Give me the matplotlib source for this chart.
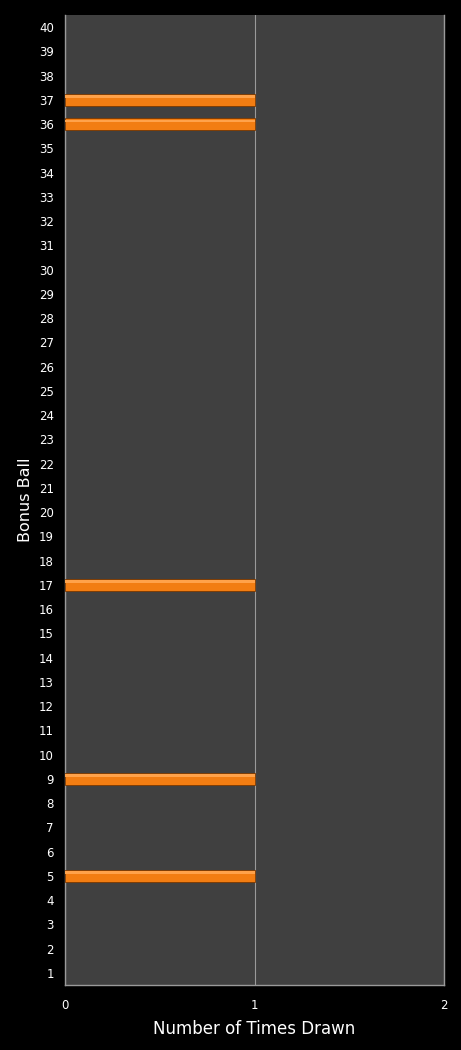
import matplotlib
matplotlib.use('Agg')
from matplotlib import pyplot as plt
import numpy as np

# Bonus ball numbers and how often each was drawn
balls = list(range(1, 41))
drawn = [0] * 40
for b in [5, 9, 17, 36, 37]:
    drawn[b - 1] = 1
x_ticks = [0, 1, 2]

fig = plt.figure(figsize=(4.61, 10.5), dpi=100, facecolor='black')
ax = fig.add_axes([65 / 461, 65 / 1050, 379 / 461, 970 / 1050])
ax.set_facecolor('#404040')

# only the balls that were actually drawn get a bar (zero bars would leave edge marks)
y = np.array(balls)
v = np.array(drawn)
hit = v > 0
ax.barh(y[hit], v[hit], height=0.5, color='#f27d12', edgecolor='#7a3800', linewidth=0.6, zorder=3)
# soft highlight near the top edge for the glossy look
ax.barh(y[hit] + 0.14, v[hit], height=0.1, color='#ffa24a', linewidth=0, zorder=4)

ax.set_xlim(0, 2)
ax.set_ylim(0.5, 40.5)
ax.set_xticks(x_ticks)
ax.set_yticks(balls)
ax.tick_params(colors='white', length=0, labelsize=8.5, pad=8)
ax.tick_params(axis='x', pad=10)
ax.grid(axis='x', color='#9a9a9a', linewidth=0.8, zorder=1)

ax.spines['top'].set_visible(False)
for s in ['left', 'bottom', 'right']:
    ax.spines[s].set_color('#9a9a9a')
    ax.spines[s].set_linewidth(1)

ax.set_xlabel('Number of Times Drawn', color='white', fontsize=12, labelpad=6)
ax.set_ylabel('Bonus Ball', color='white', fontsize=11.5, labelpad=4)

plt.savefig('out.png', facecolor='black')
plt.close()
